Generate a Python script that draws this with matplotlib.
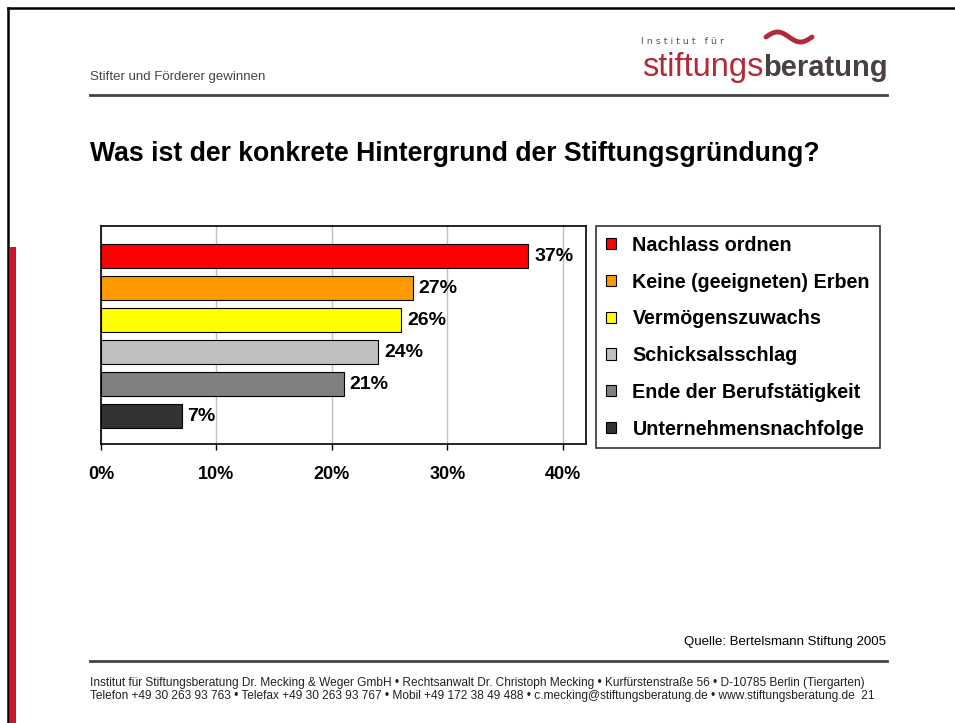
# Stiftungsgruendung - Hintergrund (Balkendiagramm im Folienlayout)
import numpy as np
import matplotlib
matplotlib.use('Agg')
import matplotlib.pyplot as plt
import matplotlib.patches as mpatches
import matplotlib.lines as mlines

plt.rcParams['font.family'] = ['Liberation Sans', 'DejaVu Sans']

# data
categories = ['Nachlass ordnen', 'Keine (geeigneten) Erben', 'Vermögenszuwachs',
              'Schicksalsschlag', 'Ende der Berufstätigkeit', 'Unternehmensnachfolge']
values = [37, 27, 26, 24, 21, 7]
bar_colors = ['#ff0000', '#ff9900', '#ffff00', '#c0c0c0', '#808080', '#333333']
xticks = [0, 10, 20, 30, 40]
xtick_labels = ['0%', '10%', '20%', '30%', '40%']

W, H = 955, 723
fig = plt.figure(figsize=(W / 100, H / 100), dpi=100)

def fx(x):
    return x / W

def fy(y):
    return 1 - y / H

# slide frame
fig.add_artist(mlines.Line2D([fx(8), fx(8)], [fy(8), 0], color='black', lw=1.8))
fig.add_artist(mlines.Line2D([fx(8), 1], [fy(8), fy(8)], color='black', lw=1.8))
fig.add_artist(mpatches.Rectangle((fx(9.5), 0), fx(6), fy(247), color='#d0112b', lw=0))

# header
fig.text(fx(90), fy(77), 'Stifter und Förderer gewinnen', fontsize=9.5, color='#444444',
         va='center', ha='left')
fig.add_artist(mlines.Line2D([fx(90), fx(887)], [fy(94.5), fy(94.5)], color='#444444', lw=2))

# logo
fig.text(fx(641), fy(41), 'I n s t i t u t   f ü r', fontsize=6.8, color='#555555',
         va='center', ha='left', family='DejaVu Sans')
fig.text(fx(763), fy(76), 'stiftungs', fontsize=23.5, color='#b22a36',
         va='baseline', ha='right')
fig.text(fx(763), fy(76), 'beratung', fontsize=21, color='#4a4040', fontweight='bold',
         va='baseline', ha='left')
sx = np.linspace(0, 1, 60)
fig.add_artist(mlines.Line2D(fx(766 + 46 * sx), fy(37 - 5 * np.sin(2 * np.pi * sx)),
                             color='#b22a36', lw=3.5, solid_capstyle='round'))

# title
fig.text(fx(90), fy(154), 'Was ist der konkrete Hintergrund der Stiftungsgründung?',
         fontsize=19.2, fontweight='bold', va='center', ha='left')

# chart
ax = fig.add_axes([fx(101), fy(444), fx(586) - fx(101), fy(226) - fy(444)])
ypos = np.arange(len(values))
ax.barh(ypos, values, height=0.73, color=bar_colors, edgecolor='black',
        linewidth=0.8, zorder=3)
for y, v in zip(ypos, values):
    ax.text(v + 0.5, y, f'{v}%', va='center', ha='left', fontsize=14,
            fontweight='bold', zorder=4)
ax.set_xlim(0, 42)
ax.set_ylim(5.875, -0.94)
ax.set_xticks(xticks)
ax.set_xticklabels(xtick_labels, fontsize=13, fontweight='bold')
ax.set_yticks([])
ax.xaxis.grid(True, color='#c0c0c0', lw=1, zorder=0)
ax.tick_params(axis='x', length=4, width=1, pad=12, color='black')
for s in ax.spines.values():
    s.set_linewidth(1.2)
    s.set_color('black')

# legend
handles = [mpatches.Patch(facecolor=c, edgecolor='black', linewidth=0.8, label=l)
           for c, l in zip(bar_colors, categories)]
leg = fig.legend(handles=handles, loc='upper left',
                 bbox_to_anchor=(fx(596), fy(226)), frameon=True,
                 fontsize=14.2, handlelength=0.5, handleheight=0.5,
                 handletextpad=0.85, labelspacing=0.9, borderpad=0.5,
                 borderaxespad=0, fancybox=False)
for txt in leg.get_texts():
    txt.set_fontweight('bold')
leg.get_frame().set_edgecolor('black')
leg.get_frame().set_linewidth(1.2)

# footer
fig.text(fx(886), fy(642), 'Quelle: Bertelsmann Stiftung 2005', fontsize=9.5,
         ha='right', va='center')
fig.add_artist(mlines.Line2D([fx(90), fx(887)], [fy(661), fy(661)], color='#444444', lw=2))
fig.text(fx(90), fy(683),
         'Institut für Stiftungsberatung Dr. Mecking & Weger GmbH • Rechtsanwalt Dr. Christoph Mecking • '
         'Kurfürstenstraße 56 • D-10785 Berlin (Tiergarten)',
         fontsize=8.55, ha='left', va='center', color='#222222')
fig.text(fx(90), fy(696),
         'Telefon +49 30 263 93 763 • Telefax +49 30 263 93 767 • Mobil +49 172 38 49 488 • '
         'c.mecking@stiftungsberatung.de • www.stiftungsberatung.de  21',
         fontsize=8.55, ha='left', va='center', color='#222222')

fig.savefig('out.png', dpi=100)
